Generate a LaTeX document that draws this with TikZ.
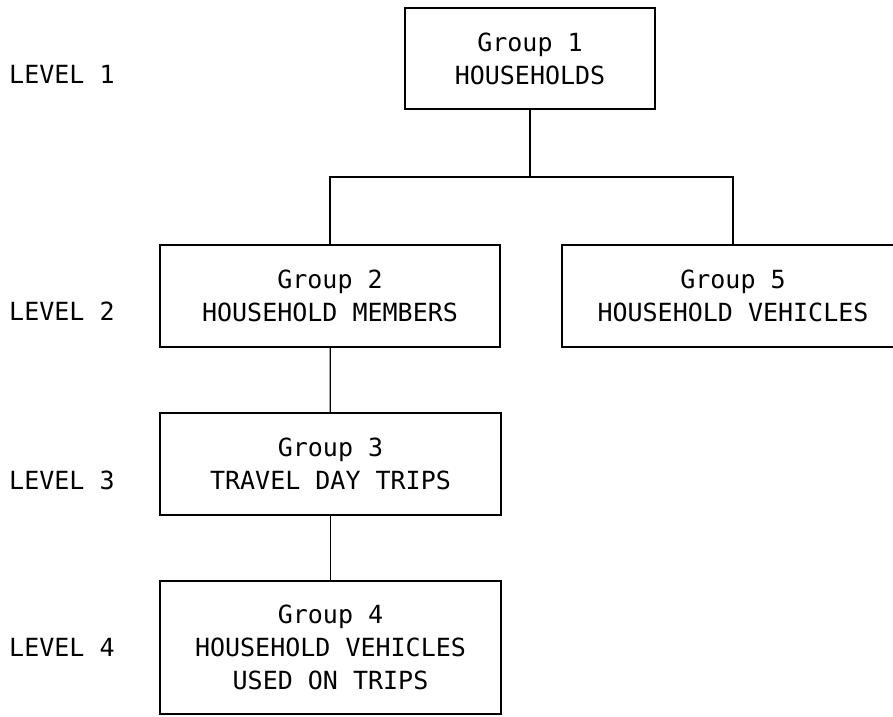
\documentclass[tikz,border=0pt]{standalone}
\usepackage{fontspec}
\setmonofont{DejaVu Sans Mono}
\tikzset{grp/.style={rectangle,draw,line width=2pt,inner sep=0pt,align=center}}
\tikzset{lvl/.style={anchor=base west,inner sep=0pt}}

\begin{document}
\begin{tikzpicture}[x=1pt,y=1pt,font=\ttfamily\fontsize{25}{33}\selectfont]
      \useasboundingbox (0,0) rectangle (893,716);
      \node[lvl] (L1) at (9,632) {LEVEL 1};
      \node[lvl] (L2) at (9,396) {LEVEL 2};
      \node[lvl] (L3) at (9,227) {LEVEL 3};
      \node[lvl] (L4) at (9,60) {LEVEL 4};
      \node[grp,minimum width=250pt,minimum height=101pt] (G1) at (530,657.5) {Group 1\\HOUSEHOLDS};
      \node[grp,minimum width=340pt,minimum height=102pt] (G2) at (330,420) {Group 2\\HOUSEHOLD MEMBERS};
      \node[grp,minimum width=342pt,minimum height=102pt] (G5) at (733,420) {Group 5\\HOUSEHOLD VEHICLES};
      \node[grp,minimum width=341pt,minimum height=102pt] (G3) at (330.5,252) {Group 3\\TRAVEL DAY TRIPS};
      \node[grp,minimum width=341pt,minimum height=133pt] (G4) at (330.5,68.5) {Group 4\\HOUSEHOLD VEHICLES\\USED ON TRIPS};
      \coordinate (J) at (530,539);
      \draw[line width=1.3pt] (G1) -- (J);
      \draw[line width=1.8pt] (G2.north) |- (J) -| (G5.north);
      \foreach \a/\b in {G2/G3,G3/G4}
        \draw[line width=1.3pt] (\a) -- (\b);
\end{tikzpicture}
\end{document}
